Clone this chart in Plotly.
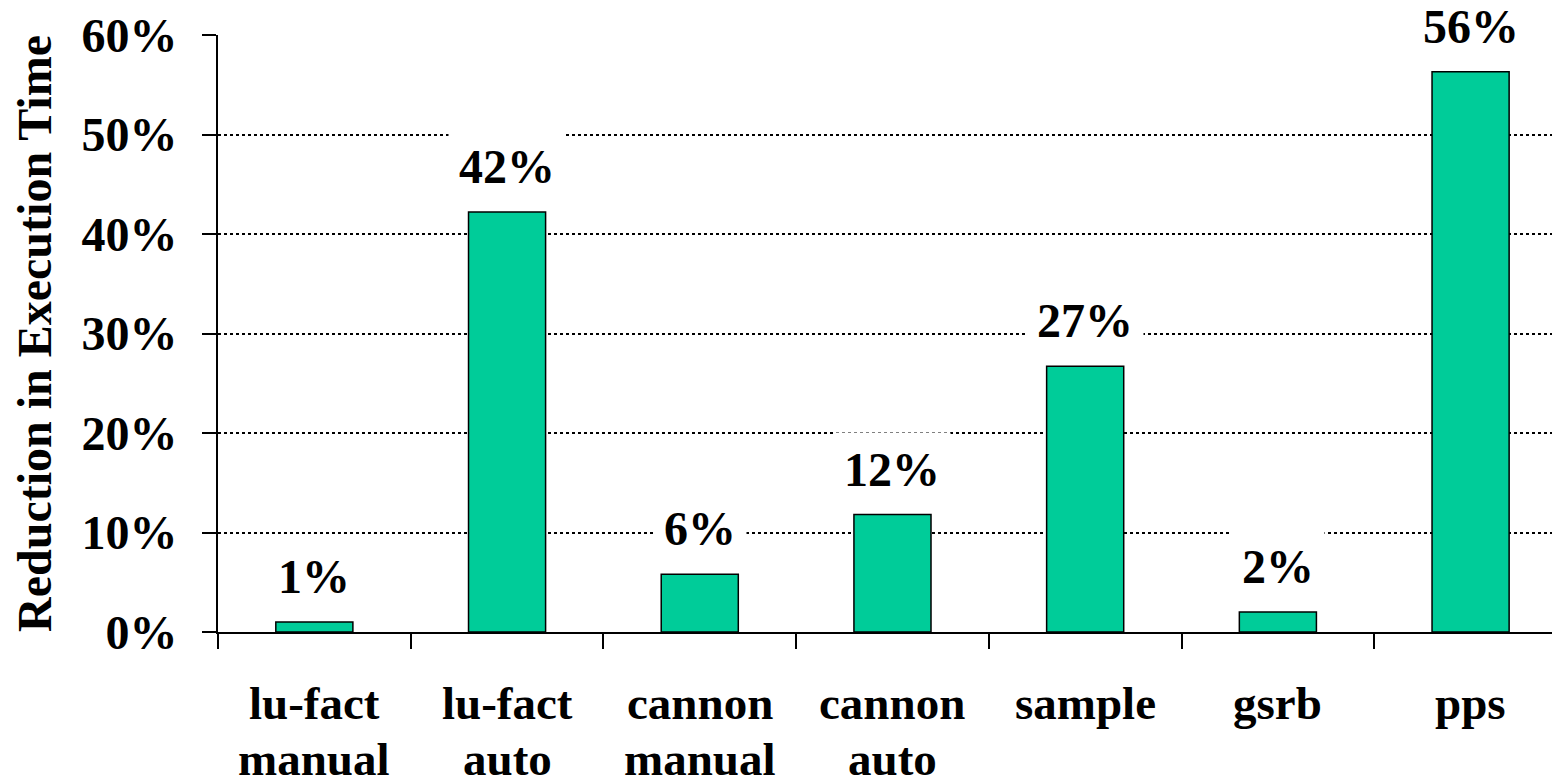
import plotly.graph_objects as go

categories = ["lu-fact<br>manual", "lu-fact<br>auto", "cannon<br>manual", "cannon<br>auto",
              "sample", "gsrb", "pps"]
values = [1.0, 42.2, 5.8, 11.8, 26.7, 2.0, 56.3]
labels = ["1%", "42%", "6%", "12%", "27%", "2%", "56%"]
y_ticks = [0, 10, 20, 30, 40, 50, 60]
y_ticktext = ["0%", "10%", "20%", "30%", "40%", "50%", "60%"]
y_title = "Reduction in Execution Time"

FONT = "Liberation Serif"
BLACK = "black"

fig = go.Figure()
fig.add_trace(go.Bar(
    x=categories, y=values,
    marker=dict(color="#00CC99", line=dict(color=BLACK, width=1.5)),
    width=0.4,
))

# value labels with white boxes (they break the gridlines like the original)
for c, v, t in zip(categories, values, labels):
    fig.add_annotation(
        x=c, y=v, text=t, showarrow=False, yanchor="bottom", yshift=8,
        font=dict(family=FONT, size=48, color=BLACK, weight="bold"),
        bgcolor="white", borderpad=10,
    )

# category labels, line by line (tighter line spacing than plotly's default)
for c in categories:
    lines = c.split("<br>")
    for i, ln in enumerate(lines):
        fig.add_annotation(
            x=c, xref="x", y=0, yref="paper", text=ln, showarrow=False,
            yanchor="middle", yshift=-71 - 56 * i,
            font=dict(family=FONT, size=47, color=BLACK, weight="bold"),
        )

# page body has an 8px margin -> compensate so the plot lands where the original is
fig.update_layout(
    width=1552, height=772,
    margin=dict(l=210, r=0, t=27, b=148),
    paper_bgcolor="white", plot_bgcolor="white",
    showlegend=False,
    font=dict(family=FONT, color=BLACK),
)
fig.update_xaxes(
    range=[-0.5, 6.464],
    showline=True, linecolor=BLACK, linewidth=2,
    ticks="outside", ticklen=15, tickwidth=1.5, tickcolor=BLACK,
    tickson="boundaries",
    showticklabels=False,
    showgrid=False,
)
fig.update_yaxes(
    range=[0, 60],
    tickvals=y_ticks, ticktext=y_ticktext,
    showline=True, linecolor=BLACK, linewidth=2,
    ticks="outside", ticklen=14, tickwidth=1.5, tickcolor=BLACK,
    tickfont=dict(family=FONT, size=48, color=BLACK, weight="bold"),
    ticklabelstandoff=15,
    showgrid=True, gridcolor=BLACK, gridwidth=1.8, griddash="dot",
    zeroline=False,
    title=dict(text=y_title, font=dict(family=FONT, size=48, color=BLACK, weight="bold"),
               standoff=17),
)

fig.write_html("out.html")
